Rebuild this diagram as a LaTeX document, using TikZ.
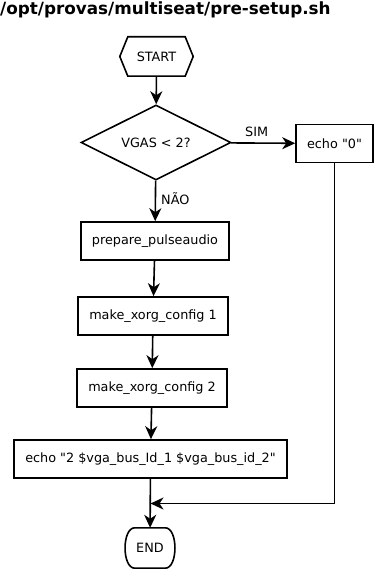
\documentclass[tikz,border=0pt]{standalone}
\usepackage{fontspec}
\setmainfont{DejaVu Sans}[Ligatures=TeXOff]
\usetikzlibrary{shapes.geometric,arrows.meta,calc}
\begin{document}
\begin{tikzpicture}[x=1pt,y=-1pt,
  every node/.style={font=\fontsize{12.8}{15}\selectfont},
  box/.style={draw,line width=1.6pt,rectangle,minimum height=38pt,inner sep=0pt},
  decision/.style={draw,line width=1.6pt,diamond,aspect=2,minimum width=150pt,minimum height=75pt,inner sep=0pt},
  flow/.style={line width=1.6pt,-{Stealth[length=13pt,width=12pt,inset=4pt]}},
  outline/.style={line width=1.6pt,line join=miter},
  lbl/.style={inner sep=0pt}]
\useasboundingbox (0,0) rectangle (374,569);

% script name
\node[anchor=west,inner sep=0pt,font=\fontsize{16.8}{18}\selectfont\bfseries] (title) at (0,10) {/opt/provas/multiseat/pre-setup.sh};

% start: hexagon drawn around a plain text node
\node[minimum width=73pt,minimum height=39pt,inner sep=0pt] (start) at (156.5,56.5) {START};
\draw[outline]
  (start.west) -- ($(start.north west)+(8,0)$) -- ($(start.north east)+(-8,0)$)
  -- (start.east) -- ($(start.south east)+(-8,0)$) -- ($(start.south west)+(8,0)$) -- cycle;

\node[decision] (test) at (156,142.5) {VGAS < 2?};
\node[box,minimum width=77pt] (echo0) at (334.5,143.5) {echo "0"};
\node[box,minimum width=148pt] (pulse) at (155,241) {prepare\_pulseaudio};
\node[box,minimum width=150pt] (xorg1) at (153,316) {make\_xorg\_config 1};
\node[box,minimum width=150pt] (xorg2) at (152,388) {make\_xorg\_config 2};
\node[box,minimum width=273pt] (echo2) at (150.5,459) {echo "2 \$vga\_bus\_Id\_1 \$vga\_bus\_id\_2"};

% end: terminal with bowed sides drawn around a plain text node
\node[minimum width=50pt,minimum height=40pt,inner sep=0pt] (end) at (150,548) {END};
\draw[outline]
  ($(end.north west)+(10,0)$) -- ($(end.north east)+(-10,0)$)
  .. controls ($(end.north east)+(3,0)$) and ($(end.south east)+(3,0)$) .. ($(end.south east)+(-10,0)$)
  -- ($(end.south west)+(10,0)$)
  .. controls ($(end.south west)+(-3,0)$) and ($(end.north west)+(-3,0)$) .. cycle;

\coordinate (merge) at (150.5,503.5);

% connectors
\draw[flow] (start) -- (test);
\draw[flow] (test) -- (echo0) node[lbl,pos=0.4,above=6pt] {SIM};
\draw[flow] (test) -- (pulse) node[lbl,pos=0.45,right=5pt] {NÃO};
\draw[flow] (pulse) -- (xorg1);
\draw[flow] (xorg1) -- (xorg2);
\draw[flow] (xorg2) -- (echo2);
\draw[flow] (echo2) -- (end);
\draw[flow] (echo0.south) |- (merge);
\end{tikzpicture}
\end{document}
